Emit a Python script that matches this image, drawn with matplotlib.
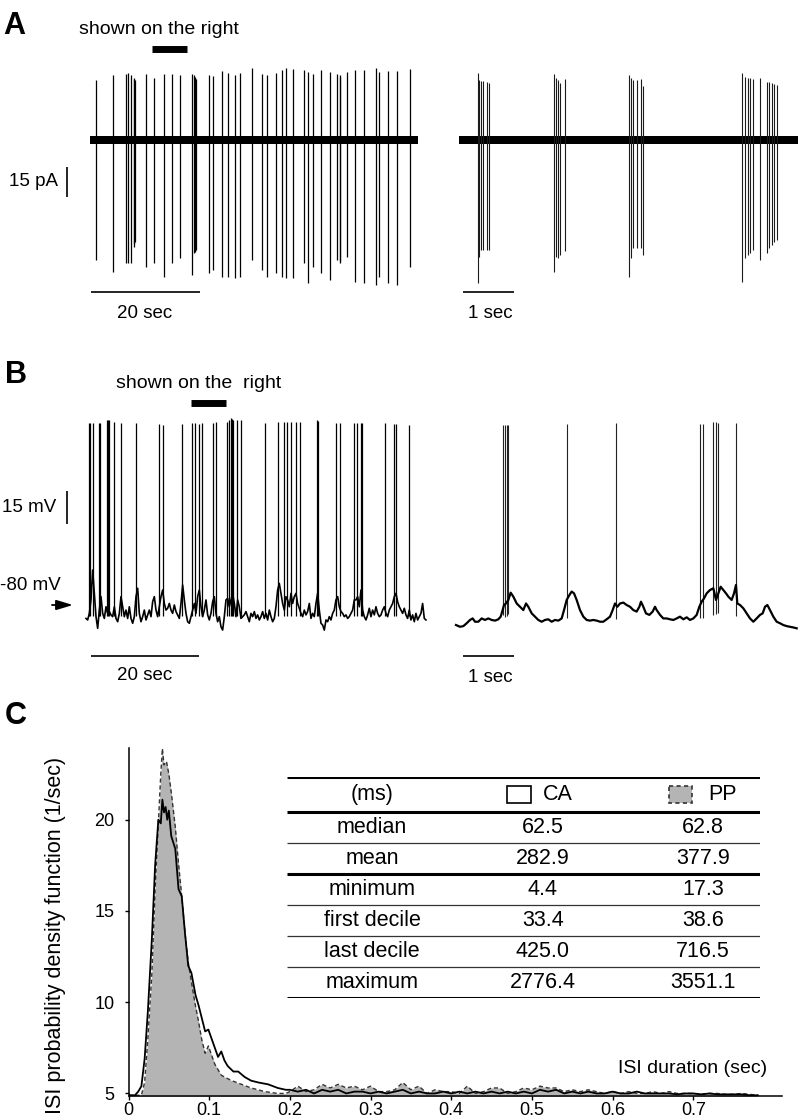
import numpy as np
import matplotlib.pyplot as plt
from matplotlib.patches import Rectangle

plt.rcParams['font.family'] = ['Liberation Sans', 'DejaVu Sans']

W, H = 801, 1120

# ---------------- panel A: cell-attached current (pA), spike times in s
a_left_spike_t = [1.10, 4.16, 6.61, 7.03, 7.46, 8.07, 8.15, 8.22, 10.22, 11.74,
                  13.52, 15.11, 16.58, 18.78, 19.15, 19.25, 19.35, 19.45, 21.78, 22.63,
                  24.16, 25.38, 26.67, 27.59, 29.67, 31.56, 32.42, 34.19, 35.29, 35.91,
                  37.32, 39.27, 39.94, 40.98, 42.39, 44.04, 45.38, 45.87, 45.95, 47.09,
                  48.68, 50.28, 52.48, 53.03, 54.62, 56.28, 58.66]
a_left_peak = [30.0, 32.5, 33.0, 33.3, 32.5, 30.8, 30.5, 30.0, 33.0, 30.8,
               33.0, 33.0, 32.5, 33.0, 32.5, 31.5, 31.0, 30.5, 32.5, 32.0,
               34.7, 33.7, 32.5, 33.3, 35.8, 33.0, 32.5, 33.7, 35.0, 35.8,
               35.3, 35.0, 34.2, 33.0, 35.0, 34.2, 33.0, 32.5, 31.5, 34.2,
               35.0, 35.0, 35.8, 34.2, 34.7, 34.7, 35.3]
a_left_trough = [-60.0, -65.8, -61.7, -61.7, -61.7, -53.3, -52.0, -51.0, -63.3, -61.7,
                 -68.3, -61.7, -59.2, -67.5, -56.7, -56.0, -55.5, -55.0, -66.7, -65.0,
                 -68.3, -68.3, -69.2, -68.3, -60.0, -65.0, -68.3, -66.7, -68.3, -69.2,
                 -69.2, -61.7, -71.7, -63.3, -66.7, -70.0, -60.0, -61.7, -60.5, -58.3,
                 -70.8, -71.7, -72.5, -68.3, -71.7, -72.5, -63.3]
a_left_duration = 60.2

a_right_spike_t = [0.366, 0.399, 0.431, 0.477, 0.542, 0.588,
                   1.869, 1.902, 1.935, 1.980, 2.078,
                   3.333, 3.366, 3.412, 3.484, 3.562, 3.614,
                   5.542, 5.608, 5.660, 5.706, 5.771, 5.902, 6.046, 6.085, 6.131, 6.183, 6.229]
a_right_peak = [33.3, 30.0, 29.5, 29.5, 29.2, 28.7,
                33.0, 31.2, 30.0, 28.3, 30.3,
                32.5, 30.8, 30.0, 30.0, 30.3, 27.2,
                33.3, 31.7, 31.2, 31.2, 30.3, 30.8, 29.2, 29.2, 28.3, 27.8, 27.5]
a_right_trough = [-71.7, -58.3, -55.0, -55.0, -55.0, -55.0,
                  -65.8, -58.3, -59.2, -57.5, -55.5,
                  -68.3, -58.8, -53.8, -53.8, -53.8, -57.5,
                  -70.8, -59.2, -57.5, -56.7, -55.0, -60.0, -56.7, -54.2, -52.5, -50.8, -50.0]
a_right_duration = 6.65
a_noise = 2.1          # half width of the baseline noise band (pA)

# ---------------- panel B: whole-cell potential (mV)
b_left_dt = 0.3086     # s between samples
b_left_vm = [-86.1, -86.8, -83.8, -77.7, -64.1, -74.7, -85.3, -90.6, -82.3, -76.2,
             -83.8, -86.1, -80.8, -83.8, -83.0, -84.5, -85.3, -80.8, -86.1, -87.6,
             -83.8, -76.2, -80.8, -85.3, -82.3, -86.1, -80.8, -86.1, -88.3, -85.3,
             -76.2, -72.4, -83.8, -87.6, -85.3, -82.3, -86.8, -84.5, -82.3, -85.3,
             -78.5, -76.2, -82.3, -85.3, -80.8, -76.2, -73.2, -79.3, -82.3, -81.5,
             -79.3, -82.3, -83.8, -80.0, -83.0, -84.5, -86.1, -79.3, -70.9, -77.7,
             -83.8, -87.6, -88.3, -85.3, -82.3, -79.3, -83.8, -76.2, -73.2, -80.8,
             -85.3, -82.3, -77.7, -84.5, -86.8, -83.8, -78.5, -76.2, -83.8, -87.6,
             -85.3, -89.9, -91.4, -85.3, -77.7, -77.0, -80.8, -77.7, -74.7, -79.3,
             -85.3, -77.7, -80.8, -86.1, -85.3, -84.5, -83.0, -85.3, -87.6, -83.8,
             -85.3, -83.0,
             -86.1, -84.5, -86.8, -85.3, -83.0, -86.1, -83.8, -86.8, -82.3, -85.3,
             -87.6, -86.1, -80.8, -73.2, -70.2, -74.7, -79.3, -82.3, -76.2, -77.7,
             -80.8, -74.7, -79.3, -76.2, -74.7, -79.3, -81.5, -83.8, -85.3, -82.3,
             -84.5, -83.0, -79.3, -86.1, -83.8, -85.3, -79.3, -74.7, -82.3, -88.3,
             -89.1, -91.4, -86.8, -87.6, -85.3, -86.8, -83.8, -82.3, -77.7, -76.2,
             -80.8, -83.0, -83.8, -85.3, -84.5, -86.1, -85.3, -83.8, -82.3, -77.7,
             -77.7, -76.2, -80.8, -73.2, -82.3, -85.3, -86.8, -84.5, -81.5, -85.3,
             -82.3, -84.5, -80.8, -83.8, -85.3, -84.5, -82.3, -80.8, -83.8, -85.3,
             -82.3, -80.8, -79.3, -76.2, -74.7, -78.5, -80.8, -82.3, -83.8, -81.5,
             -84.5, -86.1, -82.3, -86.8, -84.5, -87.6, -83.8, -86.8, -85.3, -83.8,
             -79.3, -86.1, -86.8]
b_left_spike_t = [0.62, 0.80, 1.23, 2.34, 2.58, 3.88, 4.06, 4.31, 5.11, 6.46,
                  9.17, 13.54, 14.34, 17.72, 19.69, 20.25, 20.92, 21.54, 23.57, 24.00,
                  26.03, 26.46, 26.83, 27.08, 27.26, 28.00, 28.74, 33.23, 35.57, 36.68,
                  37.23, 37.91, 38.83, 39.69, 42.83, 42.95, 46.34, 46.95, 49.72, 50.15,
                  50.95, 51.14, 55.38, 56.98, 57.42, 59.75]
b_left_spike_peak = [2.9, 2.9, 2.9, 2.6, 2.6, 4.1, 4.1, 4.1, 3.3, 2.9,
                     2.6, 2.3, 1.8, 2.3, 2.9, 2.6, 2.3, 2.6, 2.9, 3.3,
                     3.3, 4.1, 4.8, 4.5, 4.1, 4.1, 4.1, 2.9, 3.3, 3.3,
                     3.3, 3.3, 3.3, 3.3, 4.1, 3.8, 2.6, 2.6, 2.6, 2.6,
                     2.6, 2.6, 2.6, 2.3, 2.3, 1.8]
b_left_spike_foot = -85.0

b_right_t = [0.000, 0.078, 0.144, 0.209, 0.275, 0.327, 0.373, 0.438, 0.503, 0.569,
             0.634, 0.699, 0.765, 0.830, 0.876, 0.915, 0.941, 0.980, 1.026, 1.072,
             1.124, 1.190, 1.255, 1.320, 1.373, 1.418, 1.484, 1.549, 1.614, 1.680,
             1.745, 1.810, 1.876, 1.941, 2.007, 2.072, 2.118, 2.170, 2.222, 2.268,
             2.314, 2.366, 2.431, 2.497, 2.562, 2.627, 2.693, 2.758, 2.824, 2.889,
             2.954, 3.020, 3.072, 3.118, 3.163, 3.216, 3.281, 3.346, 3.412, 3.477,
             3.542, 3.595, 3.627, 3.673, 3.725, 3.791, 3.856, 3.902, 3.935, 4.000,
             4.065, 4.131, 4.196, 4.261, 4.327, 4.392, 4.458, 4.523, 4.588, 4.654,
             4.719, 4.771, 4.817, 4.863, 4.915, 4.980, 5.046, 5.098, 5.144, 5.190,
             5.242, 5.294, 5.340, 5.405, 5.451, 5.490, 5.516, 5.569, 5.634, 5.699,
             5.765, 5.830, 5.895, 5.961, 6.013, 6.059, 6.105, 6.157, 6.222, 6.288,
             6.353, 6.418, 6.484, 6.549, 6.614, 6.680]
b_right_vm = [-89.1, -89.9, -89.6, -88.3, -86.8, -86.1, -87.6, -87.6, -86.1, -86.8,
              -86.1, -86.8, -87.1, -86.5, -85.3, -82.3, -80.0, -79.3, -77.7, -74.4,
              -76.2, -79.3, -80.8, -82.3, -79.3, -80.8, -83.8, -85.3, -86.8, -87.6,
              -86.8, -86.5, -87.6, -86.8, -87.1, -86.1, -82.3, -77.7, -75.5, -73.9,
              -74.7, -77.7, -82.3, -85.3, -86.8, -87.1, -86.8, -87.1, -87.6, -87.6,
              -86.5, -85.3, -82.3, -79.3, -80.8, -79.3, -78.9, -80.0, -80.8, -82.3,
              -83.0, -80.8, -78.5, -80.8, -83.8, -84.5, -83.0, -80.8, -82.3, -84.5,
              -86.1, -86.1, -86.5, -86.8, -86.1, -85.3, -86.5, -85.6, -86.8, -86.1,
              -84.5, -80.8, -78.5, -77.0, -74.7, -73.2, -72.4, -77.7, -74.7, -71.7,
              -73.2, -74.7, -76.2, -77.7, -74.7, -70.9, -79.3, -80.0, -81.5, -83.8,
              -86.1, -87.6, -86.1, -84.5, -83.8, -80.8, -80.0, -82.3, -85.3, -87.6,
              -88.3, -89.1, -89.6, -89.9, -90.2, -90.6]
b_right_spike_t = [0.928, 0.961, 0.993, 1.026, 2.170, 3.131,
                   4.784, 4.837, 5.046, 5.092, 5.144, 5.490]
b_right_spike_peak = [1.8, 1.8, 1.8, 1.8, 2.1, 2.6, 2.1, 2.1, 3.0, 3.0, 2.6, 2.6]
b_right_spike_foot = [-84.5, -85.3, -85.0, -84.1, -86.1, -86.5,
                      -86.1, -86.1, -84.5, -84.1, -83.8, -85.0]
rest_mark_mv = -80

# ---------------- panel C: ISI probability density (1/sec)
ca_isi = [0.000, 0.008, 0.012, 0.016, 0.020, 0.024, 0.029, 0.033, 0.037, 0.040,
          0.042, 0.044, 0.046, 0.048, 0.050, 0.053, 0.058, 0.062, 0.066, 0.070,
          0.074, 0.078, 0.083, 0.087, 0.091, 0.095, 0.099, 0.103, 0.107, 0.111,
          0.115, 0.119, 0.123, 0.130, 0.136, 0.144, 0.152, 0.161, 0.173, 0.185, 0.195]
ca_pdf = [4.9, 4.9, 5.1, 5.4, 6.9, 9.5, 13.5, 17.5, 20.0, 19.8,
          21.1, 20.4, 20.7, 20.0, 20.5, 19.1, 18.4, 16.2, 15.8, 13.8,
          12.0, 11.6, 10.4, 9.8, 9.1, 8.4, 8.5, 8.0, 7.5, 7.0,
          7.3, 6.8, 6.5, 6.2, 6.2, 5.9, 5.7, 5.6, 5.5, 5.3, 5.2]
pp_isi = [0.000, 0.012, 0.016, 0.020, 0.024, 0.029, 0.033, 0.037, 0.040, 0.042,
          0.044, 0.047, 0.050, 0.053, 0.058, 0.062, 0.066, 0.070, 0.074, 0.078,
          0.083, 0.087, 0.091, 0.095, 0.099, 0.107, 0.115, 0.119, 0.128, 0.140,
          0.152, 0.169, 0.185, 0.195]
pp_pdf = [4.9, 4.9, 4.9, 5.6, 8.0, 11.6, 16.2, 19.8, 22.5, 23.9,
          23.0, 23.2, 22.5, 21.5, 19.6, 17.6, 15.8, 13.8, 12.2, 11.1,
          9.8, 8.9, 7.9, 7.2, 7.6, 6.6, 6.0, 5.9, 5.7, 5.5,
          5.3, 5.1, 5.0, 5.0]
tail_isi = np.round(np.arange(0.20, 0.785, 0.01), 2)
ca_tail = [5.2, 5.1, 5.2, 5.0, 5.2, 5.1, 5.2, 5.0, 5.1, 5.1,
           5.0, 5.1, 5.0, 5.1, 5.2, 5.0, 5.1, 5.0, 5.0, 5.1,
           5.0, 5.1, 5.0, 5.1, 5.0, 5.1, 5.0, 5.1, 5.0, 5.1,
           5.0, 5.2, 5.1, 5.2, 5.0, 5.1, 5.0, 5.1, 5.0, 5.0,
           5.1, 5.0, 5.0, 5.1, 5.0, 5.0, 5.0, 5.0, 4.95, 5.0,
           5.0, 4.95, 5.0, 4.95, 4.95, 4.95, 4.95, 4.9, 4.9]
pp_tail = [5.1, 5.4, 5.1, 5.2, 5.5, 5.3, 5.5, 5.3, 5.4, 5.2,
           5.4, 5.1, 5.1, 5.2, 5.6, 5.2, 5.4, 5.0, 5.2, 5.1,
           5.1, 5.0, 5.4, 5.0, 5.1, 5.3, 5.3, 5.0, 5.1, 5.3,
           5.2, 5.4, 5.3, 5.3, 5.1, 5.2, 5.1, 5.2, 5.1, 5.0,
           5.1, 5.0, 5.1, 5.0, 5.0, 5.1, 5.0, 5.1, 5.0, 5.0,
           5.0, 4.95, 5.0, 5.0, 4.95, 4.95, 5.0, 4.95, 4.9]
isi_ticks = [0, 0.1, 0.2, 0.3, 0.4, 0.5, 0.6, 0.7]
isi_tick_labels = ['0', '0.1', '0.2', '0.3', '0.4', '0.5', '0.6', '0.7']
pdf_ticks = [5, 10, 15, 20]

stat_names = ['median', 'mean', 'minimum', 'first decile', 'last decile', 'maximum']
ca_stats = [62.5, 282.9, 4.4, 33.4, 425.0, 2776.4]
pp_stats = [62.8, 377.9, 17.3, 38.6, 716.5, 3551.1]

# ---------------- figure
fig = plt.figure(figsize=(W / 100, H / 100), dpi=100)


def px_axes(x0, y0, x1, y1):
    return fig.add_axes([x0 / W, 1 - y1 / H, (x1 - x0) / W, (y1 - y0) / H])


def trace_axes(box, t0_px, px_per_s, ref_px, ref_val, px_per_unit):
    x0, y0, x1, y1 = box
    ax = px_axes(*box)
    ax.set_xlim((x0 - t0_px) / px_per_s, (x1 - t0_px) / px_per_s)
    ax.set_ylim(ref_val - (y1 - ref_px) / px_per_unit, ref_val + (ref_px - y0) / px_per_unit)
    ax.axis('off')
    return ax


def ftext(x, y, s, **kw):
    kw.setdefault('va', 'center')
    kw.setdefault('fontsize', 13.5)
    fig.text(x / W, 1 - y / H, s, **kw)


def hbar(ax, x0, length, y, lw=1.2):
    ax.plot([x0, x0 + length], [y, y], color='k', lw=lw, solid_capstyle='butt')


def vbar(ax, x, y0, length, lw=1.2):
    ax.plot([x, x], [y0, y0 + length], color='k', lw=lw, solid_capstyle='butt')


# --- A left
pa_px = 2.0
ax = trace_axes((0, 20, 440, 330), 90, 109 / 20, 140, 0, pa_px)
ax.fill_between([0, a_left_duration], -a_noise, a_noise, color='k', lw=0)
ax.vlines(a_left_spike_t, a_left_trough, a_left_peak, color='k', lw=0.9)
hbar(ax, 0.2, 20, -76)
vbar(ax, -4.2, -28.5, 15)
hbar(ax, 11.4, 6.4, 45.5, lw=5)

# --- A right
ax = trace_axes((440, 20, 801, 330), 459, 51, 140, 0, pa_px)
ax.fill_between([0, a_right_duration], -a_noise, a_noise, color='k', lw=0)
ax.vlines(a_right_spike_t, a_right_trough, a_right_peak, color='#1a1a1a', lw=0.8)
hbar(ax, 0.08, 1, -76)

ftext(3, 26, 'A', fontsize=22, fontweight='bold')
ftext(158.5, 29, 'shown on the right', ha='center', fontsize=14)
ftext(58, 182, '15 pA', ha='right')
ftext(145, 313, '20 sec', ha='center')
ftext(490, 313, '1 sec', ha='center')

# --- B left
mv_px = 2.2
ax = trace_axes((0, 340, 440, 700), 86, 108 / 20, 605, rest_mark_mv, mv_px)
t_left = np.arange(len(b_left_vm)) * b_left_dt
ax.vlines(b_left_spike_t, b_left_spike_foot, b_left_spike_peak, color='k', lw=0.9)
ax.plot(t_left, b_left_vm, color='k', lw=1.2)
hbar(ax, 0.93, 20, -103.2)
vbar(ax, -3.52, -43.2, 15)
hbar(ax, 19.4, 6.5, 11.8, lw=5)
ax.annotate('', xy=((73 - 86) / 5.4, rest_mark_mv), xytext=((52 - 86) / 5.4, rest_mark_mv),
            arrowprops=dict(arrowstyle='-|>,head_length=1.0,head_width=0.3',
                            color='k', lw=1.3, shrinkA=0, shrinkB=0, mutation_scale=10))

# --- B right
ax = trace_axes((440, 340, 801, 700), 456, 51, 605, rest_mark_mv, mv_px)
ax.vlines(b_right_spike_t, b_right_spike_foot, b_right_spike_peak, color='#222222', lw=0.8)
ax.plot(b_right_t, b_right_vm, color='k', lw=1.6)
hbar(ax, 0.137, 1, -103.2)

ftext(5, 375, 'B', fontsize=22, fontweight='bold')
ftext(199, 383, 'shown on the  right', ha='center', fontsize=14)
ftext(56, 507, '15 mV', ha='right')
ftext(61, 586, '-80 mV', ha='right')
ftext(145, 675, '20 sec', ha='center')
ftext(490, 677, '1 sec', ha='center')

# --- C
ax_c = px_axes(128.5, 748, 782, 1096)
ax_c.set_xlim(0, 0.81)
ax_c.set_ylim(4.86, 23.93)
pp_x = np.concatenate([pp_isi, tail_isi])
pp_y = np.concatenate([pp_pdf, pp_tail])
ca_x = np.concatenate([ca_isi, tail_isi])
ca_y = np.concatenate([ca_pdf, ca_tail])
ax_c.fill_between(pp_x, 0, pp_y, color='#b4b4b4', lw=0)
ax_c.plot(pp_x, pp_y, color='#333333', lw=1.0, ls=(0, (3, 2)))
ax_c.plot(ca_x, ca_y, color='k', lw=1.3)
for s in ('top', 'right'):
    ax_c.spines[s].set_visible(False)
for s in ('left', 'bottom'):
    ax_c.spines[s].set_linewidth(1.1)
ax_c.set_xticks(isi_ticks)
ax_c.set_xticklabels(isi_tick_labels)
ax_c.set_yticks(pdf_ticks)
ax_c.tick_params(direction='out', length=3, width=1, labelsize=13, pad=1)
ax_c.tick_params(axis='y', pad=7)
ax_c.set_ylabel('ISI probability density function (1/sec)', fontsize=15.5)
ax_c.yaxis.set_label_coords(-0.0956, 0.461)
ax_c.text(0.792, 6.34, 'ISI duration (sec)', ha='right', va='center', fontsize=14)
ftext(5, 716, 'C', fontsize=22, fontweight='bold')

# --- statistics table
ax_t = px_axes(287, 777, 760, 998)
ax_t.set_xlim(0, 1)
row_h = [35] + [31] * len(stat_names)
bounds = np.concatenate([[0], np.cumsum(row_h)])
ax_t.set_ylim(bounds[-1], 0)
ax_t.axis('off')
thick = {0, 1, 3, len(bounds) - 1}
for i, b in enumerate(bounds):
    if i in thick:
        ax_t.plot([0, 1], [b, b], color='k', lw=2.2, solid_capstyle='butt')
    else:
        ax_t.plot([0, 1], [b, b], color='#333333', lw=0.9, solid_capstyle='butt')
centers = (bounds[:-1] + bounds[1:]) / 2
col_lab, col_ca, col_pp = 0.18, 0.541, 0.879
tfs = 15.5
ax_t.text(col_lab, centers[0], '(ms)', ha='center', va='center', fontsize=tfs)
ax_t.add_patch(Rectangle((0.465, 9), 0.051, 17, facecolor='white', edgecolor='k', lw=1.2))
ax_t.text(0.541, centers[0], 'CA', ha='left', va='center', fontsize=tfs)
ax_t.add_patch(Rectangle((0.8076, 9), 0.0486, 17, facecolor='#b4b4b4', edgecolor='#333333',
                         lw=1.2, ls=(0, (2.5, 2))))
ax_t.text(0.89, centers[0], 'PP', ha='left', va='center', fontsize=tfs)
for i, name in enumerate(stat_names):
    y = centers[i + 1]
    ax_t.text(col_lab, y, name, ha='center', va='center', fontsize=tfs)
    ax_t.text(col_ca, y, '{:.1f}'.format(ca_stats[i]), ha='center', va='center', fontsize=tfs)
    ax_t.text(col_pp, y, '{:.1f}'.format(pp_stats[i]), ha='center', va='center', fontsize=tfs)

fig.savefig('out.png', dpi=100)
